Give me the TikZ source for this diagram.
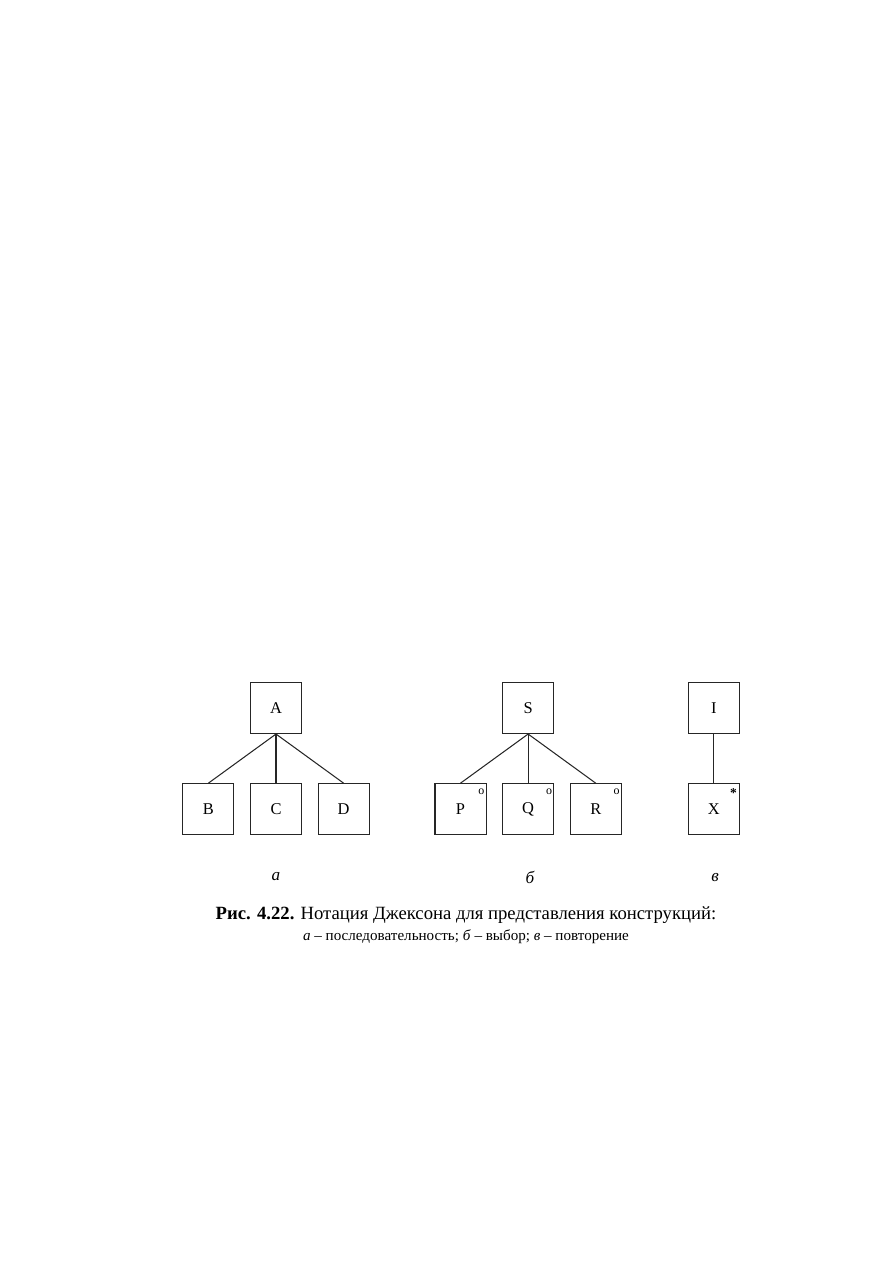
\documentclass[tikz,border=0pt]{standalone}
\usepackage{fontspec}
\setmainfont{Liberation Serif}
\usetikzlibrary{arrows}

\begin{document}
\begin{tikzpicture}[x=0.2352mm, y=-0.2352mm,
		jbox/.style={rectangle,draw=black!85,line width=0.7pt,minimum width=12mm,minimum height=12mm,inner sep=0pt,font=\fontsize{11}{13}\selectfont},
		jline/.style={black!85,line width=0.7pt},
		omark/.style={inner sep=0pt,font=\fontsize{8}{9}\selectfont},
		smark/.style={inner sep=0pt,font=\fontsize{9}{10}\selectfont\bfseries},
		sublabel/.style={inner sep=0pt,font=\fontsize{11.5}{13}\selectfont\itshape},
		node distance=15.9mm
		]
		\useasboundingbox (0,0) rectangle (893,1263);

		% a - sequence
		\node[jbox](A) at (276,708){A};
		\node[jbox, below of = A, yshift = -7.9mm](C){C};
		\node[jbox, left of = C](B){B};
		\node[jbox, right of = C](D){D};
		\draw[jline] (A.south) -- (B.north);
		\draw[jline] (A.south) -- (C.north);
		\draw[jline] (A.south) -- (D.north);

		% b - selection
		\node[jbox, right of = A, xshift = 43.4mm](S){S};
		\node[jbox, below of = S, yshift = -7.9mm](Q){Q};
		\node[jbox, left of = Q](P){P};
		\node[jbox, right of = Q](R){R};
		\draw[jline] (S.south) -- (P.north);
		\draw[jline] (S.south) -- (Q.north);
		\draw[jline] (S.south) -- (R.north);
		\node[omark](Po) at ([xshift=-1.2mm, yshift=-2.1mm]P.north east){o};
		\node[omark](Qo) at ([xshift=-1.2mm, yshift=-2.1mm]Q.north east){o};
		\node[omark](Ro) at ([xshift=-1.2mm, yshift=-2.1mm]R.north east){o};

		% c - iteration
		\node[jbox, right of = S, xshift = 27.8mm](I){I};
		\node[jbox, below of = I, yshift = -7.9mm](X){X};
		\draw[jline] (I.south) -- (X.north);
		\node[smark](Xs) at ([xshift=-1.5mm, yshift=-2.4mm]X.north east){*};

		% labels
		\node[sublabel](La) at (276,877){а};
		\node[sublabel](Lb) at (530,877){б};
		\node[sublabel](Lc) at (715,878){в};

		% caption
		\node[anchor=base, inner sep=0pt, font=\fontsize{12.5}{15}\selectfont](cap1) at (466,919)
			{\textbf{Рис. 4.22.} Нотация Джексона для представления конструкций:};
		\node[anchor=base, inner sep=0pt, font=\fontsize{10.1}{12}\selectfont](cap2) at (466,940)
			{\textit{а} – последовательность; \textit{б} – выбор; \textit{в} – повторение};
\end{tikzpicture}
\end{document}
